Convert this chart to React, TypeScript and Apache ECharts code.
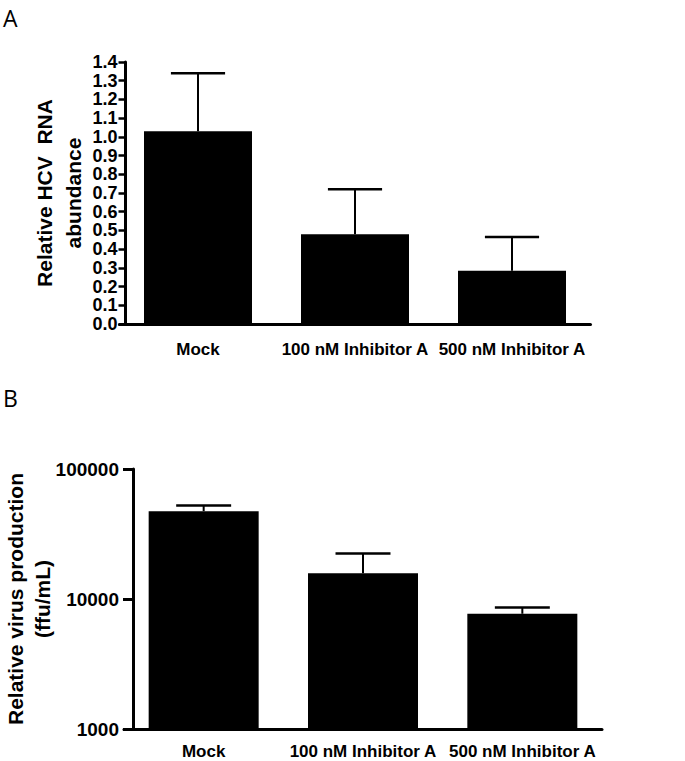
import React, { useEffect, useRef } from "react";
import * as echarts from "echarts";

const categories = ["Mock", "100 nM Inhibitor A", "500 nM Inhibitor A"];
const rnaMean = [1.03, 0.48, 0.285];
const rnaSD = [0.31, 0.24, 0.18];
const virusMean = [47400, 15800, 7700];
const virusSD = [4900, 6600, 900];
const rnaTicks = [0, 0.1, 0.2, 0.3, 0.4, 0.5, 0.6, 0.7, 0.8, 0.9, 1.0, 1.1, 1.2, 1.3, 1.4];
const virusTicks = [1000, 10000, 100000];

const FONT = "Liberation Sans, Arial, sans-serif";

function errorItem(capFrac: number) {
  return (params: any, api: any) => {
    const x = api.value(0);
    const mean = api.value(1);
    const top = api.value(2);
    const pMean = api.coord([x, mean]);
    const pTop = api.coord([x, top]);
    const band = api.size([1, 0])[0];
    const half = (band * capFrac) / 2;
    return {
      type: "group",
      children: [
        {
          type: "line",
          shape: { x1: pMean[0], y1: pMean[1], x2: pTop[0], y2: pTop[1] },
          style: { stroke: "#000", lineWidth: 2 },
        },
        {
          type: "line",
          shape: { x1: pTop[0] - half, y1: pTop[1], x2: pTop[0] + half, y2: pTop[1] },
          style: { stroke: "#000", lineWidth: 2.5 },
        },
      ],
    };
  };
}

export default function App() {
  const ref = useRef<HTMLDivElement>(null);
  useEffect(() => {
    if (!ref.current) return;
    const chart = echarts.init(ref.current, null, { renderer: "svg" });
    const labelStyle = { fontFamily: FONT, fontWeight: "bold", fontSize: 17, color: "#000" };
    const tickStyle = { fontFamily: FONT, fontWeight: "bold", fontSize: 18, lineHeight: 16, color: "#000" };
    const option: any = {
      animation: false,
      backgroundColor: "#fff",
      grid: [
        { left: 119.5, top: 62, width: 471, height: 262 },
        { left: 124, top: 469, width: 478, height: 260 },
      ],
      xAxis: [
        {
          type: "category",
          gridIndex: 0,
          data: categories,
          axisLine: { lineStyle: { color: "#000", width: 3 } },
          axisTick: { alignWithLabel: true, length: 9, lineStyle: { color: "#000", width: 3 } },
          axisLabel: { ...labelStyle, margin: 17, interval: 0 },
        },
        {
          type: "category",
          gridIndex: 1,
          data: categories,
          axisLine: { lineStyle: { color: "#000", width: 3 } },
          axisTick: { alignWithLabel: true, length: 10, lineStyle: { color: "#000", width: 3 } },
          axisLabel: { ...labelStyle, margin: 14, interval: 0 },
        },
      ],
      yAxis: [
        {
          type: "value",
          gridIndex: 0,
          min: rnaTicks[0],
          max: rnaTicks[rnaTicks.length - 1],
          interval: 0.1,
          offset: -6,
          axisLine: { show: true, lineStyle: { color: "#000", width: 3 } },
          axisTick: { show: true, length: 7, lineStyle: { color: "#000", width: 2.5 } },
          splitLine: { show: false },
          axisLabel: {
            ...tickStyle,
            margin: 8,
            showMinLabel: true,
            showMaxLabel: true,
            hideOverlap: false,
            formatter: (v: number) => v.toFixed(1),
          },
        },
        {
          type: "log",
          gridIndex: 1,
          logBase: 10,
          min: virusTicks[0],
          max: virusTicks[virusTicks.length - 1],
          offset: -9,
          axisLine: { show: true, lineStyle: { color: "#000", width: 3 } },
          axisTick: { show: true, length: 10, lineStyle: { color: "#000", width: 3 } },
          minorTick: { show: false },
          splitLine: { show: false },
          axisLabel: {
            ...tickStyle,
            fontSize: 19,
            margin: 14,
            showMinLabel: true,
            showMaxLabel: true,
            formatter: (v: number) => String(Math.round(v)),
          },
        },
      ],
      graphic: [
        { type: "text", left: 3, top: 6, style: { text: "A", fontFamily: "Open Sans", fontSize: 23, fill: "#000" } },
        { type: "text", left: 3, top: 386, style: { text: "B", fontFamily: "Open Sans", fontSize: 23, fill: "#000" } },
        {
          type: "text", x: 44, y: 193, rotation: Math.PI / 2,
          style: { text: "Relative HCV  RNA", fontFamily: FONT, fontWeight: "bold", fontSize: 21, fill: "#000", align: "center", verticalAlign: "middle" },
        },
        {
          type: "text", x: 73, y: 193, rotation: Math.PI / 2,
          style: { text: "abundance", fontFamily: FONT, fontWeight: "bold", fontSize: 21, fill: "#000", align: "center", verticalAlign: "middle" },
        },
        {
          type: "text", x: 15, y: 599, rotation: Math.PI / 2,
          style: { text: "Relative virus production", fontFamily: FONT, fontWeight: "bold", fontSize: 21, fill: "#000", align: "center", verticalAlign: "middle" },
        },
        {
          type: "text", x: 42, y: 599, rotation: Math.PI / 2,
          style: { text: "(ffu/mL)", fontFamily: FONT, fontWeight: "bold", fontSize: 21, fill: "#000", align: "center", verticalAlign: "middle" },
        },
      ],
      series: [
        {
          type: "bar",
          xAxisIndex: 0,
          yAxisIndex: 0,
          data: rnaMean,
          barWidth: 108,
          itemStyle: { color: "#000" },
        },
        {
          type: "custom",
          xAxisIndex: 0,
          yAxisIndex: 0,
          renderItem: errorItem(0.345),
          data: rnaMean.map((m, i) => [i, m, m + rnaSD[i]]),
          encode: { x: 0, y: [1, 2] },
          z: 3,
        },
        {
          type: "bar",
          xAxisIndex: 1,
          yAxisIndex: 1,
          data: virusMean,
          barWidth: 110,
          itemStyle: { color: "#000" },
        },
        {
          type: "custom",
          xAxisIndex: 1,
          yAxisIndex: 1,
          renderItem: errorItem(0.345),
          data: virusMean.map((m, i) => [i, m, m + virusSD[i]]),
          encode: { x: 0, y: [1, 2] },
          z: 3,
        },
      ],
    };
    chart.setOption(option);
    return () => chart.dispose();
  }, []);
  return <div ref={ref} style={{ position: "fixed", left: 0, top: 0, width: 685, height: 761 }} />;
}
